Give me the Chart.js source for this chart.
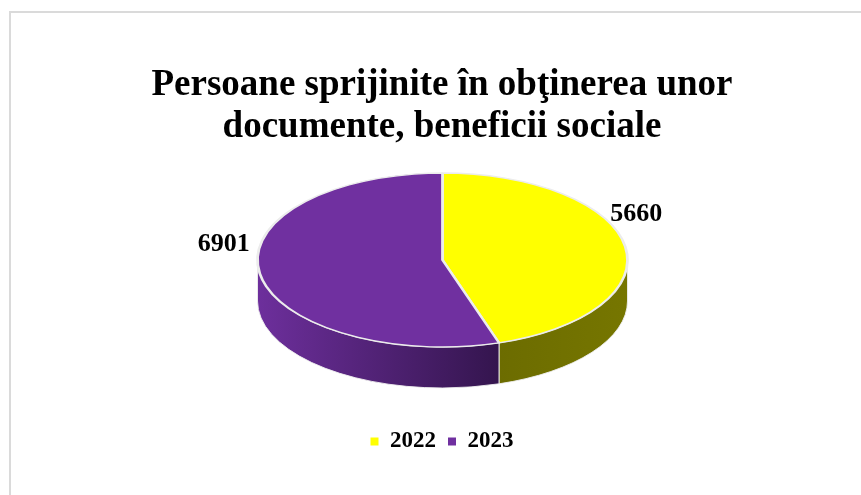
<!DOCTYPE html>
<html>
<head>
<meta charset="utf-8">
<script src="https://cdn.jsdelivr.net/npm/chart.js@4.4.1/dist/chart.umd.min.js"></script>
<style>
  html, body { margin: 0; padding: 0; background: #fff; overflow: hidden; }
  #frame { position: absolute; left: 9px; top: 11px; width: 900px; height: 600px; border: 2px solid #dadada; }
  #chart { position: absolute; left: 0; top: 0; }
</style>
</head>
<body>
<div id="frame"></div>
<canvas id="chart" width="861" height="495"></canvas>
<script>
const years = ["2022", "2023"];
const persons = [5660, 6901];
const sliceColors = ["#ffff00", "#7030a0"];
const wallColors = [["#6c6c00", "#767600"], ["#6d2f9c", "#34154e"]];
const chartTitle = ["Persoane sprijinite în obţinerea unor", "documente, beneficii sociale"];

const serif = "'Liberation Serif', 'Times New Roman', serif";

// fake 3D: squash the pie into an ellipse and paint the side walls under it
const pie3d = {
  id: "pie3d",
  beforeDatasetsDraw(chart, args, opts) {
    const ctx = chart.ctx;
    const arcs = chart.getDatasetMeta(0).data;
    const { cx, cy, rx, ry, depth } = opts;

    arcs.forEach((arc, i) => {
      const s = arc.startAngle, e = arc.endAngle;
      for (let k = -1; k <= 1; k++) {
        const a = Math.max(s + 2 * Math.PI * k, 0);
        const b = Math.min(e + 2 * Math.PI * k, Math.PI);
        if (b <= a) continue;
        const xa = cx + rx * Math.cos(a), xb = cx + rx * Math.cos(b);
        const g = ctx.createLinearGradient(Math.min(xa, xb), 0, Math.max(xa, xb), 0);
        g.addColorStop(0, wallColors[i][0]);
        g.addColorStop(1, wallColors[i][1]);
        ctx.save();
        ctx.beginPath();
        ctx.ellipse(cx, cy, rx, ry, 0, a, b);
        ctx.ellipse(cx, cy + depth, rx, ry, 0, b, a, true);
        ctx.closePath();
        ctx.fillStyle = g;
        ctx.fill();
        ctx.strokeStyle = "rgba(240,240,240,0.9)";
        ctx.lineWidth = 1;
        ctx.stroke();
        ctx.restore();
      }
    });

    const el = arcs[0];
    ctx.save();
    ctx.translate(cx, cy);
    ctx.scale(rx / el.outerRadius, ry / el.outerRadius);
    ctx.translate(-el.x, -el.y);
  },
  afterDatasetsDraw(chart, args, opts) {
    const ctx = chart.ctx;
    ctx.restore();
    const arcs = chart.getDatasetMeta(0).data;
    const { cx, cy, rx, ry, labelOffsets } = opts;
    ctx.save();
    ctx.font = "bold 26px " + serif;
    ctx.fillStyle = "#000";
    ctx.textAlign = "center";
    ctx.textBaseline = "middle";
    arcs.forEach((arc, i) => {
      const mid = (arc.startAngle + arc.endAngle) / 2;
      const x = cx + rx * Math.cos(mid) + labelOffsets[i][0];
      const y = cy + ry * Math.sin(mid) + labelOffsets[i][1];
      ctx.fillText(String(persons[i]), x, y);
    });
    ctx.restore();
  }
};

new Chart(document.getElementById("chart"), {
  type: "pie",
  data: {
    labels: years,
    datasets: [{
      data: persons,
      backgroundColor: sliceColors,
      borderColor: "#ececec",
      borderWidth: 2,
      clip: false
    }]
  },
  options: {
    responsive: false,
    animation: false,
    events: [],
    layout: { padding: { left: 23, right: 0, top: 0, bottom: 32 } },
    plugins: {
      title: {
        display: true,
        text: chartTitle,
        color: "#000",
        font: { family: serif, size: 37, weight: "bold", lineHeight: 1.15 },
        padding: { top: 64, bottom: 0 }
      },
      legend: {
        position: "bottom",
        labels: {
          usePointStyle: true,
          pointStyle: "rect",
          boxWidth: 8,
          boxHeight: 8,
          padding: 12,
          color: "#000",
          font: { family: serif, size: 23, weight: "bold" },
          generateLabels(chart) {
            const items = Chart.overrides.pie.plugins.legend.labels.generateLabels(chart);
            items.forEach(it => { it.lineWidth = 0; it.strokeStyle = it.fillStyle; });
            return items;
          }
        }
      },
      tooltip: { enabled: false },
      pie3d: { cx: 442.5, cy: 260, rx: 185, ry: 87, depth: 41, labelOffsets: [[11, -32], [-36, -29]] }
    }
  },
  plugins: [pie3d]
});
</script>
</body>
</html>
